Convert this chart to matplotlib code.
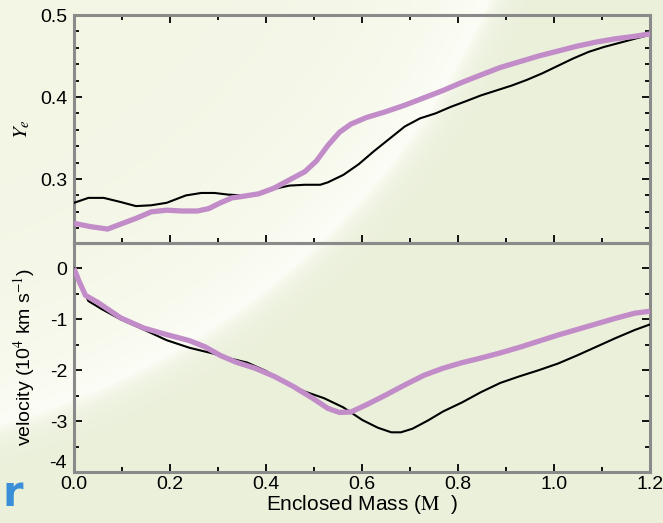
import numpy as np
import matplotlib
matplotlib.use("Agg")
import matplotlib.pyplot as plt
from matplotlib.ticker import MultipleLocator

plt.rcParams['font.family'] = ['Liberation Sans', 'DejaVu Sans']
plt.rcParams['mathtext.fontset'] = 'stix'

# ---------------- data ----------------
ye_black_x = [0.0, 0.03, 0.062, 0.097, 0.129, 0.161, 0.193, 0.233, 0.265, 0.293, 0.321, 0.353,
              0.385, 0.417, 0.449, 0.481, 0.513, 0.529, 0.561, 0.593, 0.625, 0.657, 0.689,
              0.721, 0.753, 0.785, 0.817, 0.848, 0.880, 0.912, 0.944, 0.976, 1.008, 1.040,
              1.072, 1.104, 1.136, 1.168, 1.2]
ye_black_y = [0.271, 0.277, 0.277, 0.272, 0.267, 0.268, 0.271, 0.280, 0.283, 0.283, 0.281, 0.280,
              0.282, 0.288, 0.292, 0.293, 0.293, 0.296, 0.305, 0.318, 0.334, 0.349, 0.364,
              0.374, 0.380, 0.388, 0.395, 0.402, 0.408, 0.414, 0.421, 0.429, 0.438, 0.447,
              0.455, 0.461, 0.466, 0.471, 0.476]

ye_purple_x = [0.0, 0.034, 0.07, 0.097, 0.129, 0.161, 0.193, 0.225, 0.257, 0.281, 0.305, 0.329,
               0.353, 0.385, 0.417, 0.449, 0.481, 0.505, 0.529, 0.553, 0.577, 0.609, 0.649,
               0.689, 0.729, 0.769, 0.809, 0.848, 0.888, 0.928, 0.968, 1.008, 1.048, 1.088,
               1.128, 1.168, 1.2]
ye_purple_y = [0.246, 0.242, 0.239, 0.245, 0.252, 0.260, 0.262, 0.261, 0.261, 0.264, 0.271, 0.277,
               0.279, 0.282, 0.289, 0.299, 0.309, 0.322, 0.341, 0.357, 0.367, 0.375, 0.382,
               0.390, 0.399, 0.408, 0.418, 0.427, 0.436, 0.443, 0.450, 0.456, 0.462, 0.467,
               0.471, 0.474, 0.477]

vel_black_x = [0.0, 0.014, 0.03, 0.058, 0.097, 0.145, 0.193, 0.241, 0.289, 0.321, 0.361, 0.401,
               0.441, 0.481, 0.521, 0.561, 0.601, 0.633, 0.661, 0.681, 0.705, 0.737, 0.769,
               0.809, 0.848, 0.888, 0.928, 0.968, 1.008, 1.048, 1.088, 1.128, 1.168, 1.2]
vel_black_y = [0.0, -0.34, -0.64, -0.80, -1.0, -1.2, -1.41, -1.56, -1.67, -1.76, -1.85, -2.02,
               -2.25, -2.42, -2.55, -2.73, -2.98, -3.13, -3.22, -3.22, -3.15, -2.99, -2.81,
               -2.63, -2.43, -2.25, -2.12, -2.00, -1.87, -1.71, -1.54, -1.37, -1.21, -1.10]

vel_purple_x = [0.0, 0.01, 0.024, 0.05, 0.097, 0.145, 0.193, 0.241, 0.273, 0.305, 0.337, 0.377,
                0.417, 0.457, 0.497, 0.529, 0.553, 0.577, 0.609, 0.649, 0.689, 0.729, 0.769,
                0.809, 0.848, 0.888, 0.928, 0.968, 1.008, 1.048, 1.088, 1.128, 1.168, 1.2]
vel_purple_y = [0.0, -0.24, -0.53, -0.67, -0.97, -1.17, -1.30, -1.42, -1.54, -1.71, -1.84, -1.96,
                -2.12, -2.32, -2.55, -2.75, -2.83, -2.82, -2.68, -2.49, -2.29, -2.10, -1.96,
                -1.85, -1.76, -1.66, -1.55, -1.43, -1.31, -1.20, -1.09, -0.98, -0.88, -0.84]

x_ticks = [0.0, 0.2, 0.4, 0.6, 0.8, 1.0, 1.2]
x_tick_labels = ['0.0', '0.2', '0.4', '0.6', '0.8', '1.0', '1.2']
ye_ticks = [0.3, 0.4, 0.5]
ye_tick_labels = ['0.3', '0.4', '0.5']
vel_ticks = [0, -1, -2, -3, -4]
vel_tick_labels = ['0', '-1', '-2', '-3', '-4']

# ---------------- figure ----------------
W, H = 663, 523
fig = plt.figure(figsize=(W / 100, H / 100), dpi=100)

# background with white swoosh
yy, xx = np.mgrid[0:H, 0:W].astype(float)
cx, cy, R = -200.0, -300.0, 750.0
d = np.hypot(xx - cx, yy - cy) - R
inside = np.clip(np.exp(d / 80.0), 0, 1)
outside = np.exp(-np.clip(d, 0, None) / 12.0)
w = np.where(d < 0, inside, outside)
c_in = np.array([243, 246, 229]) / 255.0
c_edge = np.array([252, 253, 246]) / 255.0
c_out = np.array([235, 240, 219]) / 255.0
img = np.where((d < 0)[..., None],
               c_in + (c_edge - c_in) * w[..., None],
               c_out + (c_edge - c_out) * w[..., None])
bg = fig.add_axes([0, 0, 1, 1])
bg.imshow(img, aspect='auto', extent=[0, 1, 0, 1], origin='upper')
bg.set_axis_off()
bg.set_zorder(-10)

L, Rr = 74 / W, 650 / W
top_t, mid, bot = 1 - 15 / H, 1 - 243 / H, 1 - 472 / H
ax1 = fig.add_axes([L, mid, Rr - L, top_t - mid])
ax2 = fig.add_axes([L, bot, Rr - L, mid - bot])

purple = '#c28cc9'
for ax in (ax1, ax2):
    ax.patch.set_alpha(0)
    for s in ax.spines.values():
        s.set_color('#8a8a8a')
        s.set_linewidth(2.2)
    ax.set_xlim(0, 1.2)
    ax.xaxis.set_minor_locator(MultipleLocator(0.1))
    ax.tick_params(which='both', direction='in', color='black', labelsize=14,
                   right=True, width=1.3, pad=5)
    ax.tick_params(which='major', length=6)
    ax.tick_params(which='minor', length=3.5)

ax1.plot(ye_black_x, ye_black_y, color='black', lw=1.5, zorder=3)
ax1.plot(ye_purple_x, ye_purple_y, color=purple, lw=3.8, zorder=4, solid_capstyle='butt')
ax1.set_ylim(0.222, 0.5)
ax1.set_yticks(ye_ticks)
ax1.set_yticklabels(ye_tick_labels)
ax1.yaxis.set_minor_locator(MultipleLocator(0.02))
ax1.set_xticks(x_ticks)
ax1.tick_params(axis='x', which='both', top=True, bottom=True, labelbottom=False)
ax1.set_ylabel(r'$Y_e$', fontsize=15)
ax1.yaxis.set_label_coords(-42 / 576, 0.5)

ax2.plot(vel_black_x, vel_black_y, color='black', lw=1.5, zorder=3)
ax2.plot(vel_purple_x, vel_purple_y, color=purple, lw=3.8, zorder=4, solid_capstyle='butt')
ax2.set_ylim(-4, 0.5)
ax2.set_yticks(vel_ticks)
ax2.set_yticklabels(vel_tick_labels)
ax2.get_yticklabels()[-1].set_verticalalignment('bottom')
ax2.yaxis.set_minor_locator(MultipleLocator(0.5))
ax2.set_xticks(x_ticks)
ax2.set_xticklabels(x_tick_labels)
ax2.tick_params(axis='x', which='both', top=False, bottom=True, pad=3)
ax2.set_ylabel(r'velocity (10$^{4}$ km s$^{-1}$)', fontsize=14)
ax2.yaxis.set_label_coords(-37 / 576, 0.5)
ax2.set_xlabel(r'Enclosed Mass ($\mathrm{M}$  )', fontsize=15, labelpad=0)

fig.text(13 / W, 1 - 494 / H, 'r', color='#3b8fd8', fontsize=30, fontweight='bold',
         ha='center', va='center', family='DejaVu Sans')

fig.savefig('out.png', dpi=100)
